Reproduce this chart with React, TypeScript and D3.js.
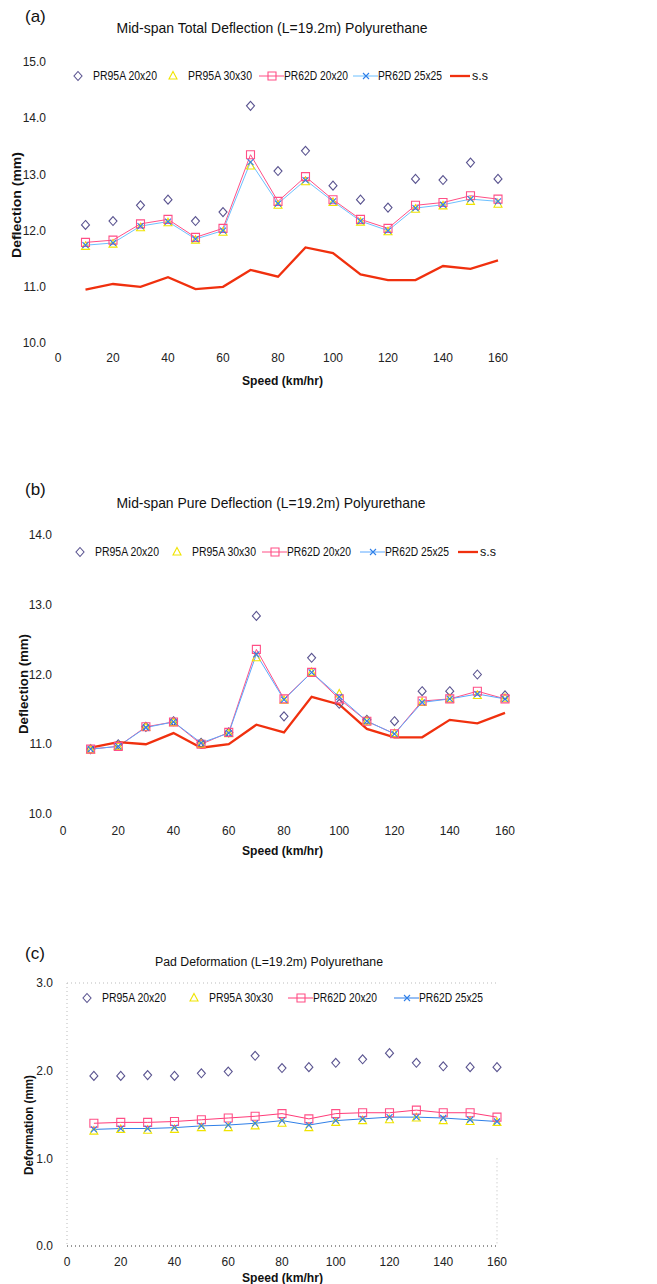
import React from "react";
import * as d3 from "d3";

// speeds, km/hr
const speeds = [10, 20, 30, 40, 50, 60, 70, 80, 90, 100, 110, 120, 130, 140, 150, 160];

// (a) mid-span total deflection, mm
const totalPR95A20 = [12.1, 12.17, 12.45, 12.55, 12.17, 12.33, 14.22, 13.06, 13.42, 12.8, 12.55, 12.41, 12.92, 12.9, 13.21, 12.92];
const totalPR95A30 = [11.72, 11.76, 12.05, 12.14, 11.83, 11.97, 13.15, 12.45, 12.87, 12.5, 12.15, 11.98, 12.38, 12.44, 12.52, 12.47];
const totalPR62D20 = [11.79, 11.83, 12.12, 12.2, 11.88, 12.04, 13.35, 12.52, 12.96, 12.55, 12.2, 12.04, 12.45, 12.5, 12.62, 12.56];
const totalPR62D25 = [11.74, 11.78, 12.08, 12.16, 11.85, 12.0, 13.22, 12.48, 12.9, 12.52, 12.17, 12.0, 12.4, 12.46, 12.56, 12.52];
const totalSS = [10.95, 11.05, 11.0, 11.17, 10.96, 11.0, 11.3, 11.18, 11.7, 11.6, 11.22, 11.12, 11.12, 11.37, 11.32, 11.47];

// (b) mid-span pure deflection, mm
const purePR95A20 = [10.93, 11.0, 11.25, 11.33, 11.02, 11.17, 12.84, 11.4, 12.24, 11.58, 11.35, 11.33, 11.76, 11.76, 12.0, 11.7];
const purePR95A30 = [10.92, 10.97, 11.24, 11.31, 11.0, 11.15, 12.24, 11.63, 12.03, 11.72, 11.33, 11.15, 11.6, 11.65, 11.7, 11.66];
const purePR62D20 = [10.93, 10.97, 11.25, 11.32, 11.0, 11.17, 12.36, 11.65, 12.03, 11.65, 11.33, 11.15, 11.62, 11.65, 11.76, 11.65];
const purePR62D25 = [10.93, 10.97, 11.24, 11.32, 11.02, 11.16, 12.29, 11.64, 12.03, 11.68, 11.33, 11.15, 11.6, 11.65, 11.72, 11.65];
const pureSS = [10.95, 11.03, 11.0, 11.16, 10.95, 11.0, 11.28, 11.17, 11.68, 11.57, 11.22, 11.1, 11.1, 11.35, 11.3, 11.45];

// (c) pad deformation, mm
const padPR95A20 = [1.94, 1.94, 1.95, 1.94, 1.97, 1.99, 2.17, 2.03, 2.04, 2.09, 2.13, 2.2, 2.09, 2.05, 2.04, 2.04];
const padPR95A30 = [1.31, 1.33, 1.32, 1.33, 1.35, 1.35, 1.37, 1.4, 1.35, 1.41, 1.43, 1.44, 1.46, 1.43, 1.42, 1.41];
const padPR62D20 = [1.4, 1.41, 1.41, 1.42, 1.44, 1.46, 1.48, 1.51, 1.45, 1.51, 1.52, 1.52, 1.55, 1.52, 1.52, 1.47];
const padPR62D25 = [1.33, 1.34, 1.34, 1.35, 1.37, 1.38, 1.4, 1.43, 1.38, 1.43, 1.45, 1.47, 1.47, 1.46, 1.44, 1.42];

const xTicks = [0, 20, 40, 60, 80, 100, 120, 140, 160];
const seriesNames = ["PR95A 20x20", "PR95A 30x30", "PR62D 20x20", "PR62D 25x25", "s.s"];

const FONT = "'Liberation Sans', Arial, sans-serif";
const DIAMOND = "#5a5490";
const YELLOW = "#f0e400";
const PINK = "#ff4f86";
const BLUE = "#2f7fe8";
const RED = "#f0300e";

type Series = { name: string; values: number[]; kind: "diamond" | "triangle" | "square" | "cross" | "line"; line?: string };

const markerPath = (kind: string, x: number, y: number) => {
  if (kind === "diamond") return `M${x},${y - 4.5}L${x + 4},${y}L${x},${y + 4.5}L${x - 4},${y}Z`;
  if (kind === "triangle") return `M${x},${y - 4.5}L${x + 4},${y + 3}L${x - 4},${y + 3}Z`;
  if (kind === "square") return `M${x - 4},${y - 4}h8v8h-8Z`;
  if (kind === "cross") return `M${x - 3},${y - 3}L${x + 3},${y + 3}M${x - 3},${y + 3}L${x + 3},${y - 3}`;
  return "";
};

const markerColor = (kind: string) =>
  kind === "diamond" ? DIAMOND : kind === "triangle" ? YELLOW : kind === "square" ? PINK : kind === "cross" ? BLUE : RED;

function Panel(props: {
  label: string; title: string; titleSize: number; titleY: number; titleX: number; titleW: number; labelY: number;
  xRange: [number, number]; yDomain: [number, number]; yRange: [number, number];
  yTicks: number[]; yLabelX: number; yTitle: string; yTitleX: number; yTitleY: number; yTitleW: number;
  xLabelY: number; xTitleY: number; legendY: number; legendX: number[];
  series: Series[]; grid?: boolean;
}) {
  const x = d3.scaleLinear().domain([0, 160]).range(props.xRange);
  const y = d3.scaleLinear().domain(props.yDomain).range(props.yRange);
  const line = d3.line<number>().x((_, i) => x(speeds[i])).y((d) => y(d));

  return (
    <g fontFamily={FONT}>
      <text x={25} y={props.labelY} fontSize={17} fill="#111">{props.label}</text>
      <text x={props.titleX - props.titleW / 2} y={props.titleY} fontSize={props.titleSize} fill="#111"
        textLength={props.titleW} lengthAdjust="spacingAndGlyphs">{props.title}</text>

      {props.grid && (
        <g stroke="#bbb" strokeDasharray="1,3" strokeWidth={1}>
          <line x1={x(0)} x2={x(160)} y1={y(3)} y2={y(3)} />
          <line x1={x(0)} x2={x(0)} y1={y(3)} y2={y(0)} />
          <line x1={x(160)} x2={x(160)} y1={y(1)} y2={y(0)} />
          <line x1={x(0)} x2={x(160)} y1={y(0)} y2={y(0)} stroke="#333" />
        </g>
      )}

      {props.yTicks.map((t) => (
        <text key={t} x={props.yLabelX} y={y(t)} dy="0.35em" fontSize={12} textAnchor="end" fill="#222">{t.toFixed(1)}</text>
      ))}
      {xTicks.map((t) => (
        <text key={t} x={x(t)} y={props.xLabelY} dy="0.35em" fontSize={12} textAnchor="middle" fill="#222">{t}</text>
      ))}
      <text transform={`translate(${props.yTitleX},${props.yTitleY + props.yTitleW / 2}) rotate(-90)`} fontSize={13.5} fontWeight="bold"
        fill="#111" textLength={props.yTitleW} lengthAdjust="spacingAndGlyphs">{props.yTitle}</text>
      <text x={242} y={props.xTitleY} fontSize={13} fontWeight="bold" fill="#111"
        textLength={81} lengthAdjust="spacingAndGlyphs">Speed (km/hr)</text>

      {props.series.map((s) => s.line && (
        <path key={s.name + "l"} d={line(s.values) || ""} fill="none" stroke={s.line} strokeWidth={s.kind === "line" ? 2.3 : 1} />
      ))}
      {props.series.filter((s) => s.kind !== "line").map((s) => (
        <g key={s.name + "m"} fill="none" stroke={markerColor(s.kind)} strokeWidth={1.1}>
          {s.values.map((v, i) => <path key={i} d={markerPath(s.kind, x(speeds[i]), y(v))} />)}
        </g>
      ))}

      {props.series.map((s, i) => {
        const lx = props.legendX[i];
        const ly = props.legendY;
        const isLine = s.kind === "line";
        const tx = isLine ? lx + 12 : s.line ? lx + 12 : lx + 15;
        return (
          <g key={s.name + "g"}>
            {s.line && <line x1={isLine ? lx - 10 : lx - 13} x2={isLine ? lx + 10 : lx + 12} y1={ly} y2={ly} stroke={s.line} strokeWidth={isLine ? 2.3 : 1} />}
            {!isLine && <path d={markerPath(s.kind, lx, ly)} fill="none" stroke={markerColor(s.kind)} strokeWidth={1.1} />}
            <text x={tx} y={ly} dy="0.35em" fontSize={12.5} fill="#111"
              textLength={isLine ? 16 : 64} lengthAdjust="spacingAndGlyphs">{s.name}</text>
          </g>
        );
      })}
    </g>
  );
}

export default function App() {
  const mk = (a: number[], b: number[], c: number[], d: number[], e: number[] | null, pink: string, blue: string): Series[] => {
    const list: Series[] = [
      { name: seriesNames[0], values: a, kind: "diamond" },
      { name: seriesNames[1], values: b, kind: "triangle" },
      { name: seriesNames[2], values: c, kind: "square", line: pink },
      { name: seriesNames[3], values: d, kind: "cross", line: blue },
    ];
    if (e) list.push({ name: seriesNames[4], values: e, kind: "line", line: RED });
    return list;
  };

  return (
    <svg width={657} height={1284} style={{ position: "absolute", left: 0, top: 0, background: "#fff" }}>
      <Panel
        label="(a)" title="Mid-span Total Deflection (L=19.2m) Polyurethane" titleSize={15} titleY={33} titleX={272} titleW={311} labelY={22}
        xRange={[58, 498]} yDomain={[10, 15]} yRange={[343, 62]} yTicks={[10, 11, 12, 13, 14, 15]}
        yLabelX={46} yTitle="Deflection (mm)" yTitleX={21} yTitleY={205} yTitleW={106} xLabelY={358} xTitleY={385}
        legendY={76} legendX={[78, 173, 272, 366, 460]}
        series={mk(totalPR95A20, totalPR95A30, totalPR62D20, totalPR62D25, totalSS, PINK, "#6cc0ff")}
      />
      <Panel
        label="(b)" title="Mid-span Pure Deflection (L=19.2m) Polyurethane" titleSize={15} titleY={508} titleX={271} titleW={309} labelY={495}
        xRange={[63, 505]} yDomain={[10, 14]} yRange={[814, 535]} yTicks={[10, 11, 12, 13, 14]}
        yLabelX={52} yTitle="Deflection (mm)" yTitleX={28} yTitleY={684} yTitleW={100} xLabelY={831} xTitleY={855}
        legendY={552} legendX={[80, 177, 275, 373, 468]}
        series={mk(purePR95A20, purePR95A30, purePR62D20, purePR62D25, pureSS, PINK, "#5aa8ff")}
      />
      <Panel
        label="(c)" title="Pad Deformation (L=19.2m) Polyurethane" titleSize={12} titleY={966} titleX={269} titleW={228} labelY={959}
        xRange={[67, 497]} yDomain={[0, 3]} yRange={[1246, 983]} yTicks={[0, 1, 2, 3]}
        yLabelX={53} yTitle="Deformation (mm)" yTitleX={33} yTitleY={1125} yTitleW={100} xLabelY={1262} xTitleY={1282}
        legendY={998} legendX={[87, 194, 301, 407]}
        series={mk(padPR95A20, padPR95A30, padPR62D20, padPR62D25, null, "#ff3a78", BLUE)}
        grid
      />
    </svg>
  );
}
